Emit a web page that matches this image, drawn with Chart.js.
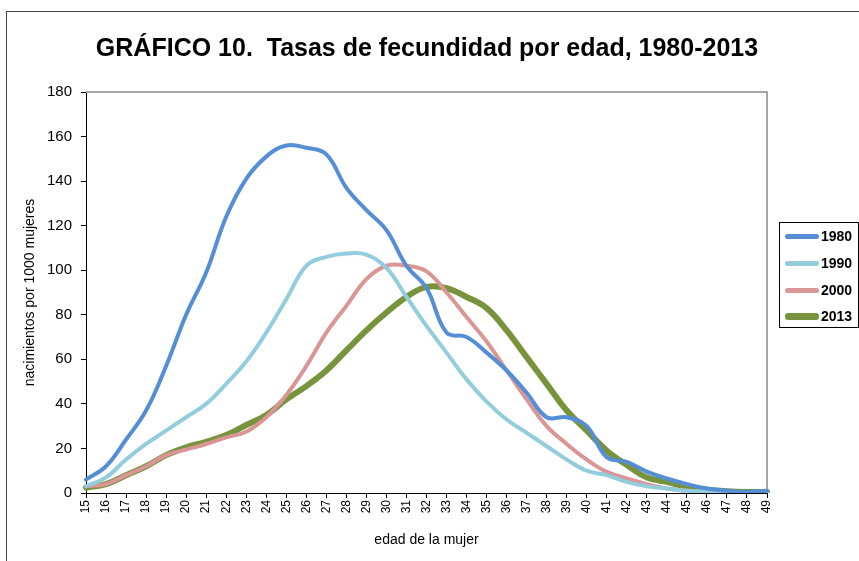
<!DOCTYPE html>
<html>
<head>
<meta charset="utf-8">
<script src="https://cdn.jsdelivr.net/npm/chart.js@4/dist/chart.umd.min.js"></script>
<style>
    body { margin: 0; background: #fff; font-family: "Liberation Sans", Arial, sans-serif; }
    #wrap { position: relative; width: 859px; height: 561px; overflow: hidden; }
    #frame { position: absolute; left: 6px; top: 11px; width: 900px; height: 600px; border: 1px solid #444; box-sizing: border-box; pointer-events: none; }
    #title { position: absolute; left: 0; width: 854px; top: 32px; line-height: 30px; text-align: center; font-weight: bold; font-size: 25px; color: #000; white-space: pre; }
    #legend { position: absolute; left: 779px; top: 222px; width: 80px; height: 106px; border: 1px solid #000; box-sizing: border-box; background: #fff; }
    #legend .item { position: absolute; left: 5px; height: 16px; display: flex; align-items: center; }
    #legend .swatch { width: 34px; border-radius: 3px; margin-right: 2px; }
    #legend .txt { font-weight: bold; font-size: 14px; color: #000; }
</style>
</head>
<body>
<div id="wrap">
    <canvas id="fertility-chart" width="859" height="561"></canvas>
    <div id="frame"></div>
    <div id="title"></div>
    <div id="legend"></div>
</div>
<script>
    "use strict";

    var titulo = "GRÁFICO 10.  Tasas de fecundidad por edad, 1980-2013";

    // Edades (categorias del eje x)
    var edades = ["15", "16", "17", "18", "19", "20", "21", "22", "23", "24", "25", "26", "27", "28", "29", "30", "31", "32",
                  "33", "34", "35", "36", "37", "38", "39", "40", "41", "42", "43", "44", "45", "46", "47", "48", "49"];

    // Tasas por 1000 mujeres
    var tasas1980 = [6, 12, 24, 37, 57, 80, 99, 124, 141, 151, 156, 155, 152, 137, 127, 118, 102, 92, 72, 70, 63, 55, 45, 34, 34, 30, 16, 14, 9.6, 6.5, 4, 2, 1, 0.5, 1];
    var tasas1990 = [3, 7, 15, 22, 28, 34, 40, 49, 59, 72, 87, 102, 106, 107.5, 107, 101, 88, 75, 63, 51, 41, 33, 27, 21, 15, 10, 8, 5, 3, 2, 1, 0.5, 0.3, 0.2, 0.1];
    var tasas2000 = [3, 4, 8, 12, 17, 19.5, 22, 25, 27.5, 34, 44, 57, 72, 84, 96, 102, 102, 99.5, 90, 79, 68, 55, 42, 30, 22, 15, 9.5, 6.5, 4, 2, 1, 0.5, 0.2, 0.1, 0.1];
    var tasas2013 = [2.5, 4, 8, 12, 17, 20.5, 23, 26, 30.5, 35, 42, 48, 55, 64, 73, 81, 88, 92.5, 92, 88, 83, 73, 61, 49, 37, 28, 19, 12.6, 7, 5, 2.7, 1.5, 0.8, 0.5, 0.5];

    var yTicks = [0, 20, 40, 60, 80, 100, 120, 140, 160, 180];

    var fontFamily = '"Liberation Sans", Arial, sans-serif';

    function serie(label, data, color, width) {
        return {
            label: label,
            data: data,
            borderColor: color,
            backgroundColor: color,
            borderWidth: width,
            pointRadius: 0,
            tension: 0.4,
            fill: false,
            borderCapStyle: "round",
            borderJoinStyle: "round"
        };
    }

    // Borde gris arriba y a la derecha del area de trazado
    var plotBorder = {
        id: "plotBorder",
        beforeDatasetsDraw: function (chart) {
            var a = chart.chartArea, ctx = chart.ctx;
            ctx.save();
            ctx.strokeStyle = "#a6a6a6";
            ctx.lineWidth = 2;
            ctx.beginPath();
            ctx.moveTo(a.left, a.top);
            ctx.lineTo(a.right, a.top);
            ctx.lineTo(a.right, a.bottom);
            ctx.stroke();
            ctx.restore();
        }
    };

    document.getElementById("title").textContent = titulo;

    var ctx = document.getElementById("fertility-chart").getContext("2d");
    var chart = new Chart(ctx, {
        type: "line",
        data: {
            labels: edades,
            datasets: [
                serie("1980", tasas1980, "#558ed5", 4),
                serie("1990", tasas1990, "#93cddd", 4),
                serie("2000", tasas2000, "#d99694", 4),
                serie("2013", tasas2013, "#77933c", 6)
            ]
        },
        options: {
            responsive: false,
            animation: false,
            layout: { padding: { left: 0, right: 92, top: 92, bottom: 0 } },
            plugins: {
                legend: { display: false },
                tooltip: { enabled: false },
                title: { display: false }
            },
            scales: {
                x: {
                    offset: false,
                    afterFit: function (scale) { scale.height = 68; },
                    grid: { display: true, drawOnChartArea: false, drawTicks: true, tickLength: 5, color: "#000" },
                    border: { display: true, color: "#000", width: 1 },
                    ticks: {
                        color: "#000",
                        minRotation: 90,
                        maxRotation: 90,
                        autoSkip: false,
                        padding: 2,
                        font: { family: fontFamily, size: 12 }
                    },
                    title: {
                        display: true,
                        text: "edad de la mujer",
                        color: "#000",
                        font: { family: fontFamily, size: 14 },
                        padding: { top: 0, bottom: 12 }
                    }
                },
                y: {
                    min: 0,
                    max: 180,
                    afterFit: function (scale) { scale.width = 86; },
                    afterBuildTicks: function (scale) {
                        scale.ticks = yTicks.map(function (v) { return { value: v }; });
                    },
                    grid: { display: true, drawOnChartArea: false, drawTicks: true, tickLength: 5, color: "#000" },
                    border: { display: true, color: "#000", width: 1 },
                    ticks: {
                        color: "#000",
                        padding: 9,
                        font: { family: fontFamily, size: 15 }
                    },
                    title: {
                        display: true,
                        text: "nacimientos por 1000 mujeres",
                        color: "#000",
                        font: { family: fontFamily, size: 14 },
                        padding: { top: 22, bottom: 0 }
                    }
                }
            }
        },
        plugins: [plotBorder]
    });

    // Leyenda HTML a la derecha
    var legend = document.getElementById("legend");
    var rowTops = [5, 32, 59, 85];
    chart.data.datasets.forEach(function (ds, i) {
        var item = document.createElement("div");
        item.className = "item";
        item.style.top = rowTops[i] + "px";
        var sw = document.createElement("span");
        sw.className = "swatch";
        sw.style.height = (ds.borderWidth + 1) + "px";
        sw.style.background = ds.borderColor;
        var txt = document.createElement("span");
        txt.className = "txt";
        txt.textContent = ds.label;
        item.appendChild(sw);
        item.appendChild(txt);
        legend.appendChild(item);
    });
</script>
</body>
</html>
